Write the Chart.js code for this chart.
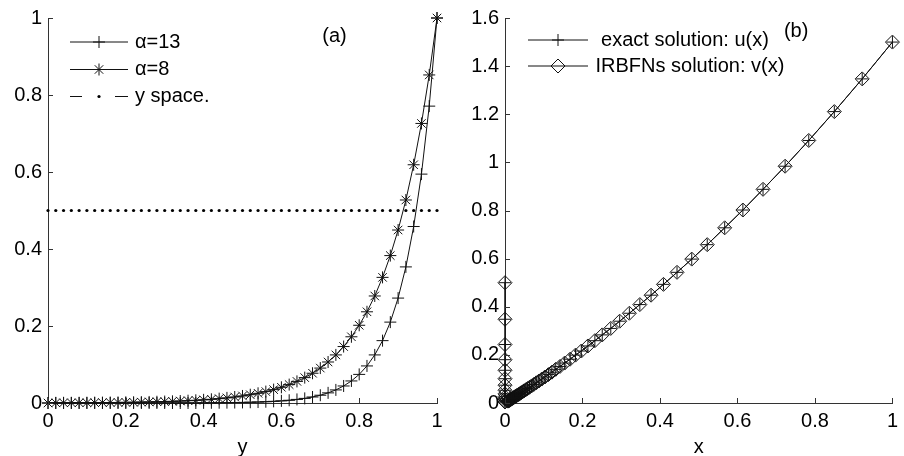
<!DOCTYPE html>
<html>
<head>
<meta charset="utf-8">
<script src="https://cdn.jsdelivr.net/npm/chart.js@4.4.1/dist/chart.umd.min.js"></script>
<style>
  html, body { margin: 0; padding: 0; background: #fff; }
  #wrap { position: relative; width: 904px; height: 456px; overflow: hidden; }
  canvas { position: absolute; top: 0; }
</style>
</head>
<body>
<div id="wrap">
  <canvas id="panelA" width="452" height="456" style="left:0"></canvas>
  <canvas id="panelB" width="452" height="456" style="left:452px"></canvas>
</div>
<script>
// ---- panel (a) data ----
const yGrid = [0, 0.02, 0.04, 0.06, 0.08, 0.1, 0.12, 0.14, 0.16, 0.18,
  0.2, 0.22, 0.24, 0.26, 0.28, 0.3, 0.32, 0.34, 0.36, 0.38,
  0.4, 0.42, 0.44, 0.46, 0.48, 0.5, 0.52, 0.54, 0.56, 0.58,
  0.6, 0.62, 0.64, 0.66, 0.68, 0.7, 0.72, 0.74, 0.76, 0.78,
  0.8, 0.82, 0.84, 0.86, 0.88, 0.9, 0.92, 0.94, 0.96, 0.98, 1];

const alpha13 = [0, 0, 0, 0, 0, 0, 0, 0, 0, 0,
  0, 0, 0, 0, 0, 0, 0, 0, 0, 0,
  0.0004, 0.0005, 0.0007, 0.0009, 0.0012, 0.0015, 0.002, 0.0025, 0.0033, 0.0043,
  0.0055, 0.0071, 0.0093, 0.012, 0.0156, 0.0202, 0.0263, 0.034, 0.0442, 0.0573,
  0.0743, 0.0963, 0.1249, 0.162, 0.2101, 0.2725, 0.3535, 0.4584, 0.5945, 0.7711, 1];

const alpha8 = [0, 0.0004, 0.0005, 0.0005, 0.0006, 0.0007, 0.0009, 0.001, 0.0012, 0.0014,
  0.0017, 0.0019, 0.0023, 0.0027, 0.0032, 0.0037, 0.0043, 0.0051, 0.006, 0.007,
  0.0082, 0.0096, 0.0113, 0.0133, 0.0156, 0.0183, 0.0215, 0.0252, 0.0296, 0.0347,
  0.0408, 0.0478, 0.0561, 0.0659, 0.0773, 0.0907, 0.1065, 0.1249, 0.1466, 0.172,
  0.2019, 0.2369, 0.278, 0.3263, 0.3829, 0.4493, 0.5273, 0.6188, 0.7261, 0.8521, 1];

const ySpace = [0.5, 0.5, 0.5, 0.5, 0.5, 0.5, 0.5, 0.5, 0.5, 0.5,
  0.5, 0.5, 0.5, 0.5, 0.5, 0.5, 0.5, 0.5, 0.5, 0.5,
  0.5, 0.5, 0.5, 0.5, 0.5, 0.5, 0.5, 0.5, 0.5, 0.5,
  0.5, 0.5, 0.5, 0.5, 0.5, 0.5, 0.5, 0.5, 0.5, 0.5,
  0.5, 0.5, 0.5, 0.5, 0.5, 0.5, 0.5, 0.5, 0.5, 0.5, 0.5];

// ---- panel (b) data ----
const xNodes = [1, 0.922, 0.85, 0.784, 0.723, 0.666, 0.614, 0.567, 0.522, 0.482,
  0.444, 0.409, 0.377, 0.348, 0.321, 0.296, 0.273, 0.251, 0.232, 0.214,
  0.197, 0.182, 0.168, 0.154, 0.142, 0.131, 0.121, 0.112, 0.103, 0.095,
  0.0875, 0.0807, 0.0744, 0.0686, 0.0632, 0.0583, 0.0538, 0.0496, 0.0457, 0.0421,
  0.0388, 0.0358, 0.033, 0.0305, 0.0281, 0.0259, 0.0239, 0.022, 0.0203, 0.0187,
  0.0173, 0.0159, 0.0147, 0.0135, 0.0125, 0.0115, 0.0106, 0.0098, 0.009, 0.0083, 0.0077,
  0, 0, 0, 0, 0, 0, 0, 0, 0, 0, 0, 0, 0];

const uExact = [1.5, 1.347, 1.211, 1.091, 0.984, 0.888, 0.802, 0.728, 0.658, 0.598,
  0.543, 0.493, 0.448, 0.409, 0.373, 0.34, 0.31, 0.283, 0.259, 0.237,
  0.216, 0.199, 0.182, 0.166, 0.152, 0.14, 0.128, 0.118, 0.108, 0.0995,
  0.0913, 0.084, 0.0772, 0.071, 0.0652, 0.06, 0.0552, 0.0508, 0.0467, 0.043,
  0.0396, 0.0364, 0.0335, 0.031, 0.0285, 0.0262, 0.0242, 0.0222, 0.0205, 0.0189,
  0.0174, 0.016, 0.0148, 0.0136, 0.0126, 0.0116, 0.0107, 0.0098, 0.009, 0.0083, 0.0077,
  0.004, 0.01, 0.017, 0.026, 0.038, 0.053, 0.074, 0.101, 0.136, 0.18, 0.243, 0.348, 0.5];

const vIrbf = [1.5, 1.347, 1.211, 1.091, 0.984, 0.888, 0.802, 0.728, 0.658, 0.598,
  0.543, 0.493, 0.448, 0.409, 0.373, 0.34, 0.31, 0.283, 0.259, 0.237,
  0.216, 0.199, 0.182, 0.166, 0.152, 0.14, 0.128, 0.118, 0.108, 0.0995,
  0.0913, 0.084, 0.0772, 0.071, 0.0652, 0.06, 0.0552, 0.0508, 0.0467, 0.043,
  0.0396, 0.0364, 0.0335, 0.031, 0.0285, 0.0262, 0.0242, 0.0222, 0.0205, 0.0189,
  0.0174, 0.016, 0.0148, 0.0136, 0.0126, 0.0116, 0.0107, 0.0098, 0.009, 0.0083, 0.0077,
  0.004, 0.01, 0.017, 0.026, 0.038, 0.053, 0.074, 0.101, 0.136, 0.18, 0.243, 0.348, 0.5];

// tick labels
const ticksA_x = [0, 0.2, 0.4, 0.6, 0.8, 1];
const ticksA_y = [0, 0.2, 0.4, 0.6, 0.8, 1];
const ticksB_x = [0, 0.2, 0.4, 0.6, 0.8, 1];
const ticksB_y = [0, 0.2, 0.4, 0.6, 0.8, 1, 1.2, 1.4, 1.6];

const FONT = "'Liberation Sans', Arial, Helvetica, sans-serif";
const INK = '#111';

function pts(xs, ys) {
  return xs.map((x, i) => ({ x: x, y: ys[i] }));
}

function marker(ctx, style, x, y, r) {
  ctx.beginPath();
  if (style === 'cross' || style === 'star') {
    ctx.moveTo(x - r, y); ctx.lineTo(x + r, y);
    ctx.moveTo(x, y - r); ctx.lineTo(x, y + r);
  }
  if (style === 'star') {
    const d = r * Math.SQRT1_2;
    ctx.moveTo(x - d, y - d); ctx.lineTo(x + d, y + d);
    ctx.moveTo(x - d, y + d); ctx.lineTo(x + d, y - d);
  }
  if (style === 'diamond') {
    ctx.moveTo(x - r, y); ctx.lineTo(x, y - r);
    ctx.lineTo(x + r, y); ctx.lineTo(x, y + r); ctx.closePath();
  }
  ctx.stroke();
}

// inward tick marks + legend box + panel tag
const figureDecor = {
  id: 'figureDecor',
  afterDatasetsDraw(chart, args, opts) {
    const { ctx, chartArea, scales } = chart;
    ctx.save();
    ctx.strokeStyle = '#333';
    ctx.lineWidth = 1;
    ctx.beginPath();
    scales.x.ticks.forEach(t => {
      const px = Math.round(scales.x.getPixelForValue(t.value)) + 0.5;
      ctx.moveTo(px, chartArea.bottom);
      ctx.lineTo(px, chartArea.bottom - 5);
    });
    scales.y.ticks.forEach(t => {
      const py = Math.round(scales.y.getPixelForValue(t.value)) + 0.5;
      ctx.moveTo(chartArea.left, py);
      ctx.lineTo(chartArea.left + 5, py);
    });
    ctx.stroke();

    // legend
    ctx.font = '20px ' + FONT;
    ctx.textBaseline = 'middle';
    ctx.textAlign = 'left';
    ctx.fillStyle = '#000';
    ctx.strokeStyle = INK;
    const L = opts.legend;
    L.rows.forEach((row, i) => {
      const y = L.rowY[i];
      ctx.beginPath();
      if (row.style === 'dashdot') {
        ctx.moveTo(L.x0, y); ctx.lineTo(L.x0 + 12, y);
        ctx.moveTo(L.x1 - 13, y); ctx.lineTo(L.x1, y);
        ctx.stroke();
        ctx.beginPath();
        ctx.arc(L.mx, y, 1.6, 0, Math.PI * 2);
        ctx.fillStyle = '#000';
        ctx.fill();
      } else {
        ctx.moveTo(L.x0, y); ctx.lineTo(L.x1, y);
        ctx.stroke();
        marker(ctx, row.style, L.mx, y, row.r);
      }
      ctx.fillText(row.text, L.tx, y);
    });

    // panel tag
    const tag = opts.tag;
    ctx.fillText(tag.text, scales.x.getPixelForValue(tag.x), scales.y.getPixelForValue(tag.y));
    ctx.restore();
  }
};

function makeScales(xTicks, yTicks, xTitle, yWidth) {
  const tickFont = { family: FONT, size: 20 };
  return {
    x: {
      type: 'linear',
      min: xTicks[0],
      max: xTicks[xTicks.length - 1],
      afterBuildTicks: s => { s.ticks = xTicks.map(v => ({ value: v })); },
      afterFit: s => { s.height = 53; },
      grid: { display: false, drawTicks: false },
      border: { display: true, color: '#333', width: 1 },
      ticks: { color: '#000', font: tickFont, padding: 6, maxRotation: 0, autoSkip: false, callback: v => String(v) },
      title: { display: true, text: xTitle, color: '#000', font: tickFont, padding: { top: 0, bottom: -3 } }
    },
    y: {
      type: 'linear',
      min: yTicks[0],
      max: yTicks[yTicks.length - 1],
      afterBuildTicks: s => { s.ticks = yTicks.map(v => ({ value: v })); },
      afterFit: s => { s.width = yWidth; },
      grid: { display: false, drawTicks: false },
      border: { display: true, color: '#333', width: 1 },
      ticks: { color: '#000', font: tickFont, padding: 6, autoSkip: false, callback: v => String(v) }
    }
  };
}

function lineSet(label, xs, ys, style, r) {
  return {
    label: label,
    data: pts(xs, ys),
    showLine: true,
    borderColor: INK,
    borderWidth: 1,
    backgroundColor: 'rgba(0,0,0,0)',
    pointStyle: style,
    pointRadius: r,
    pointBorderColor: INK,
    pointBorderWidth: 1,
    pointBackgroundColor: 'rgba(0,0,0,0)',
    clip: false
  };
}

new Chart(document.getElementById('panelA').getContext('2d'), {
  type: 'scatter',
  data: {
    datasets: [
      lineSet('α=13', yGrid, alpha13, 'cross', 6),
      lineSet('α=8', yGrid, alpha8, 'star', 6),
      {
        label: 'y space.',
        data: pts(yGrid, ySpace),
        showLine: false,
        pointStyle: 'circle',
        pointRadius: 1.6,
        pointBorderWidth: 0,
        pointBackgroundColor: '#000',
        clip: false
      }
    ]
  },
  options: {
    responsive: false,
    animation: false,
    events: [],
    layout: { padding: { top: 14, right: 15, left: 0, bottom: 0 } },
    scales: makeScales(ticksA_x, ticksA_y, 'y', 48),
    plugins: {
      legend: { display: false },
      tooltip: { enabled: false },
      figureDecor: {
        legend: {
          x0: 70, x1: 128, mx: 99, tx: 135, rowY: [42, 69.5, 96.5],
          rows: [
            { text: 'α=13', style: 'cross', r: 6 },
            { text: 'α=8', style: 'star', r: 6 },
            { text: 'y space.', style: 'dashdot' }
          ]
        },
        tag: { text: '(a)', x: 0.705, y: 0.952 }
      }
    }
  },
  plugins: [figureDecor]
});

new Chart(document.getElementById('panelB').getContext('2d'), {
  type: 'scatter',
  data: {
    datasets: [
      lineSet('exact solution: u(x)', xNodes, uExact, 'cross', 6),
      lineSet('IRBFNs solution: v(x)', xNodes, vIrbf, 'rectRot', 7)
    ]
  },
  options: {
    responsive: false,
    animation: false,
    events: [],
    layout: { padding: { top: 14, right: 10, left: 0, bottom: 0 } },
    scales: makeScales(ticksB_x, ticksB_y, 'x', 53),
    plugins: {
      legend: { display: false },
      tooltip: { enabled: false },
      figureDecor: {
        legend: {
          x0: 76, x1: 136, mx: 106, tx: 143.5, rowY: [40, 66],
          rows: [
            { text: ' exact solution: u(x)', style: 'cross', r: 6 },
            { text: 'IRBFNs solution: v(x)', style: 'diamond', r: 7 }
          ]
        },
        tag: { text: '(b)', x: 0.72, y: 1.543 }
      }
    }
  },
  plugins: [figureDecor]
});
</script>
</body>
</html>
